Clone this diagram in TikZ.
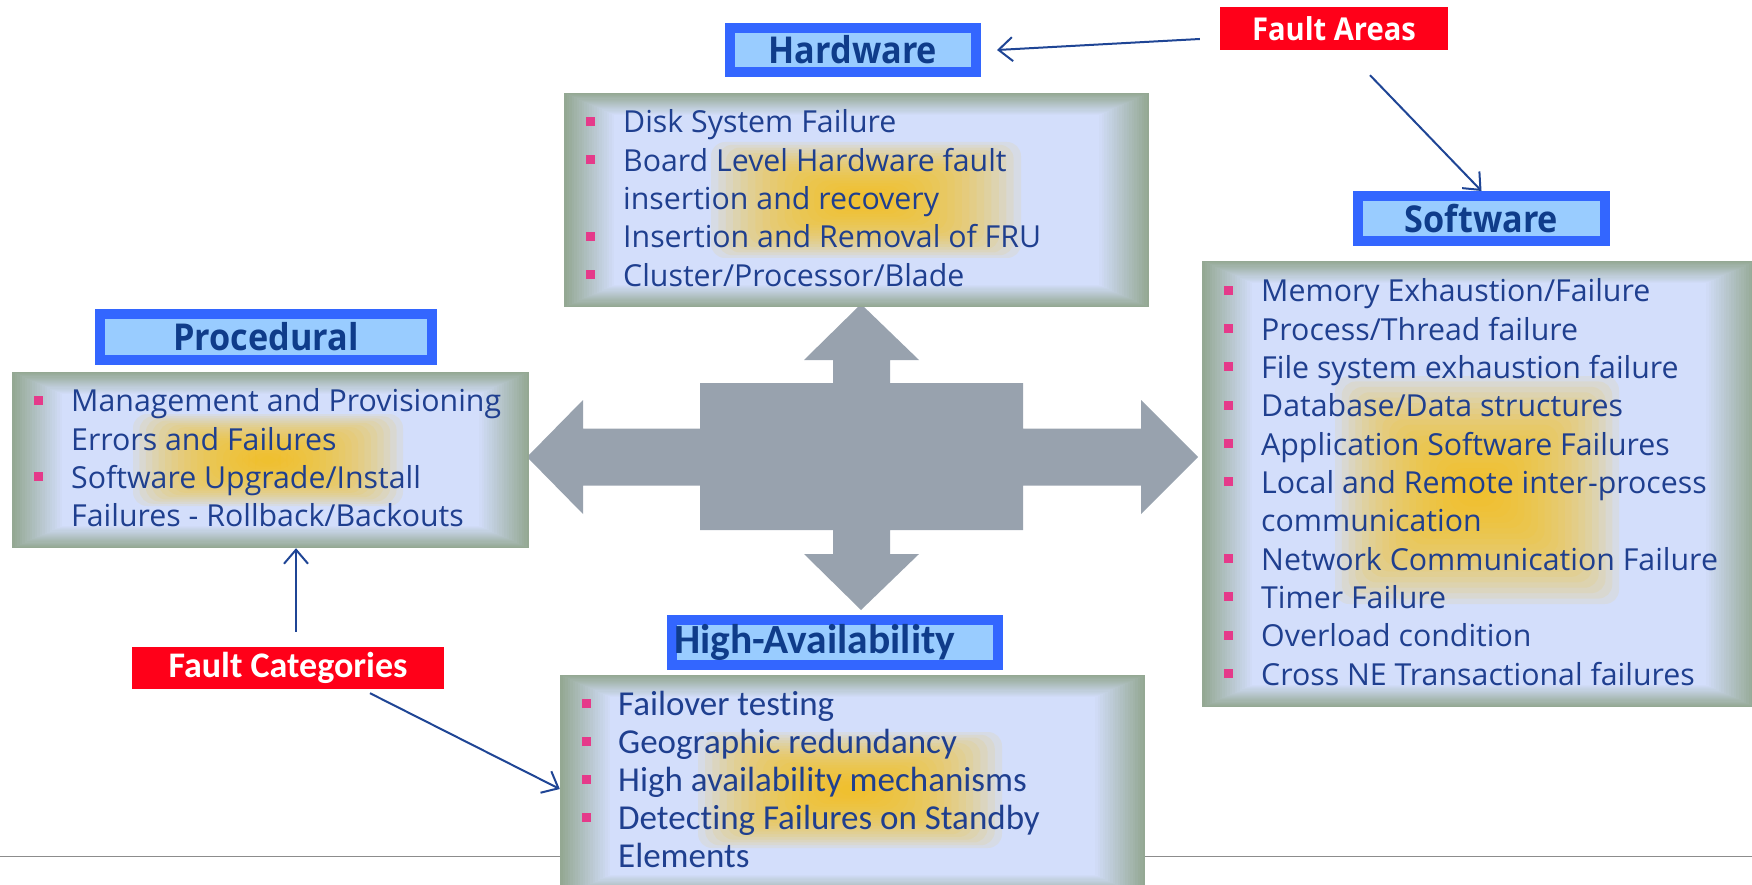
\documentclass[tikz,border=0pt]{standalone}
\usepackage{fontspec}
\setmainfont{Open Sans}
\newfontfamily\narrowfont[Ligatures=NoCommon]{Carlito}
\newfontfamily\headfont[FakeStretch=0.925]{Open Sans}
\usetikzlibrary{arrows.meta,fit}

\definecolor{titleout}{HTML}{3366FF}
\definecolor{titlein}{HTML}{99CCFF}
\definecolor{titletext}{HTML}{0F3C8A}
\definecolor{listblue}{HTML}{1F3F8F}
\definecolor{faultred}{HTML}{FF0019}
\definecolor{bulpink}{HTML}{E53A8A}
\definecolor{crossgray}{HTML}{98A2AE}
\definecolor{connblue}{HTML}{1F4595}
\definecolor{boxedge}{HTML}{94A893}
\definecolor{boxin}{HTML}{D3DEFB}
\definecolor{glowc}{HTML}{FAC012}
\definecolor{rulegray}{HTML}{8C8C8C}

\newcommand\lstfnt{\fontsize{30.3}{36}\selectfont}
\newcommand\ttlfnt{\headfont\fontsize{37}{40}\selectfont\bfseries}
\newcommand\redfnt{\headfont\fontsize{31.5}{34}\selectfont\bfseries}

% bevelled content panel: name, x1, y1, x2, y2
\newcommand\bevelpanel[5]{%
  \foreach \i in {0,...,20}{%
    \pgfmathsetmacro\pc{100*\i/20}%
    \fill[boxin!\pc!boxedge] (#2+2.5*\i,#3+1.1*\i) rectangle (#4-2.5*\i,#5-1.1*\i);
  }%
  \node[fit={(#2,#3) (#4,#5)}, inner sep=0pt] (#1) {};
}

% soft yellow glow: centre x, centre y, half width, half height
\newcommand\softglow[4]{%
  \foreach \k in {0,...,19}{%
    \pgfmathsetmacro\f{1-\k/21}%
    \fill[glowc, opacity=0.09, rounded corners=14pt]
      (#1-#3*\f,#2-#4*\f) rectangle (#1+#3*\f,#2+#4*\f);
  }%
}

% bulleted lines: prefix, bullet x, text x, first baseline, step, style, items
\newcommand\bulletlines[7]{%
  \foreach \t/\b [count=\i] in {#7}{%
    \pgfmathsetmacro\yb{#4+(\i-1)*#5}%
    \node[#6, anchor=base west] (#1-\i) at (#3,\yb) {\t};
    \ifnum\b=1 \fill[bulpink] (#2,\yb-16) rectangle ++(9,9);\fi
  }%
}

\begin{document}
\begin{tikzpicture}[x=1pt,y=-1pt,
  titlebox/.style={draw=titleout, line width=10pt, fill=titlein, inner sep=0pt,
    font=\ttlfnt, text=titletext},
  faultbox/.style={fill=faultred, text=white, inner sep=0pt, font=\redfnt},
  listtext/.style={text=listblue, inner sep=0pt, font=\lstfnt},
  halist/.style={text=listblue, inner sep=0pt, font=\narrowfont\fontsize{35}{36}\selectfont},
  conn/.style={draw=connblue, line width=2pt, -{Straight Barb[length=14pt,width=24pt]}}]

\useasboundingbox (0,0) rectangle (1752,885);

% bottom rule
\draw[rulegray, line width=1.5pt] (0,856.5) -- (1752,856.5);

% central four-way arrow
\fill[crossgray] (861,304) -- (919,360) -- (890,360) -- (890,383) -- (1023,383)
  -- (1023,428.5) -- (1141,428.5) -- (1141,400) -- (1198,457) -- (1141,514)
  -- (1141,485.5) -- (1023,485.5) -- (1023,530) -- (890,530) -- (890,554)
  -- (919,554) -- (861,610) -- (804,554) -- (833,554) -- (833,530) -- (700,530)
  -- (700,485.5) -- (583,485.5) -- (583,514) -- (527,457) -- (583,400)
  -- (583,428.5) -- (700,428.5) -- (700,383) -- (833,383) -- (833,360)
  -- (804,360) -- cycle;

% content panels
\bevelpanel{hwp}{564}{93}{1149}{307}
\bevelpanel{prp}{12}{372}{529}{548}
\bevelpanel{swp}{1202}{261}{1756}{707}
\bevelpanel{hap}{560}{675}{1145}{897}

\softglow{866}{200}{155}{58}
\softglow{268}{460}{135}{46}
\softglow{1477}{490}{142}{114}
\softglow{850}{790}{152}{58}

% list texts
\bulletlines{hwl}{586}{623}{132.7}{38.4}{listtext}{%
  {Disk System Failure}/1,
  {Board Level Hardware fault}/1,
  {insertion and recovery}/0,
  {Insertion and Removal of FRU}/1,
  {Cluster/Processor/Blade}/1}

\bulletlines{prl}{34}{71}{411.7}{38.33}{listtext}{%
  {Management and Provisioning}/1,
  {Errors and Failures}/0,
  {Software Upgrade/Install}/1,
  {Failures - Rollback/Backouts}/0}

\bulletlines{swl}{1224}{1261}{301.7}{38.33}{listtext}{%
  {Memory Exhaustion/Failure}/1,
  {Process/Thread failure}/1,
  {File system exhaustion failure}/1,
  {Database/Data structures}/1,
  {Application Software Failures}/1,
  {Local and Remote inter-process}/1,
  {communication}/0,
  {Network Communication Failure}/1,
  {Timer Failure}/1,
  {Overload condition}/1,
  {Cross NE Transactional failures}/1}

\bulletlines{hal}{582}{618}{715}{38.1}{halist}{%
  {Failover testing}/1,
  {Geographic redundancy}/1,
  {High availability mechanisms}/1,
  {Detecting Failures on Standby}/1,
  {Elements}/0}

% area titles
\node[titlebox, minimum width=246pt, minimum height=44.6pt] (hw) at (853,50) {Hardware};
\node[titlebox, minimum width=247pt, minimum height=45pt] (sw) at (1481.5,218.5) {Software};
\node[titlebox, minimum width=332pt, minimum height=46pt] (pr) at (266,337) {Procedural};
\node[titlebox, minimum width=326pt, minimum height=45pt, text width=322pt, align=left,
  font=\narrowfont\fontsize{41.5}{44}\selectfont\bfseries] (ha) at (835,642.5) {High-Availability};

% red labels
\node[faultbox, minimum width=228pt, minimum height=43pt] (fa) at (1334,28.5) {Fault Areas};
\node[faultbox, minimum width=312pt, minimum height=42pt,
  font=\narrowfont\fontsize{36}{38}\selectfont\bfseries] (fc) at (288,668) {Fault Categories};

% connectors
\draw[conn] ([xshift=-20pt,yshift=-10.5pt]fa.west) -- ([xshift=16pt]hw.east);
\draw[conn] ([xshift=36pt,yshift=-25pt]fa.south) -- (sw.north);
\draw[conn] ([xshift=8pt,yshift=15pt]fc.north) -- ([xshift=8pt]fc.north |- prp.south);
\draw[conn] ([xshift=82pt,yshift=-4pt]fc.south) -- ([yshift=-3pt]hap.west);
\end{tikzpicture}
\end{document}
